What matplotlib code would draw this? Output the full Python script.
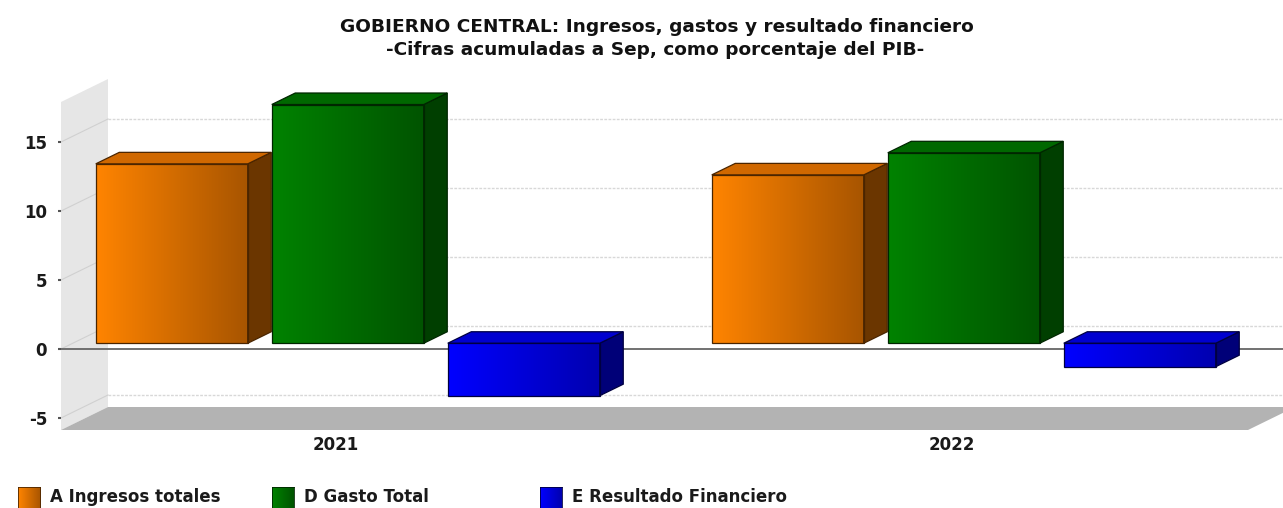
import numpy as np
import matplotlib.pyplot as plt
from matplotlib.patches import Polygon, Rectangle
from matplotlib.colors import to_rgb

plt.rcParams['font.family'] = ['DejaVu Sans']

# datos (% del PIB, acumulado a septiembre)
years = ['2021', '2022']
series_names = ['A Ingresos totales', 'D Gasto Total', 'E Resultado Financiero']
ingresos = [13.0, 12.2]
gasto = [17.3, 13.8]
resultado = [-3.8, -1.7]
yticks = [-5, 0, 5, 10, 15]

title_1 = 'GOBIERNO CENTRAL: Ingresos, gastos y resultado financiero'
title_2 = '-Cifras acumuladas a Sep, como porcentaje del PIB-'

# colores: frente izq, frente der, lateral, tapa, borde
colors = [
    ('#ff8400', '#a85500', '#6b3600', '#d06800', '#4a2500'),
    ('#008200', '#005400', '#003f00', '#006800', '#002600'),
    ('#0000ff', '#0000b0', '#000078', '#0000d0', '#000040'),
]

# geometria en pixeles de la figura
W, H = 1283, 508
X0_PX, PX_X = 336, 616      # centro de categoria 0 y px por categoria
Y0_PX, PX_V = 349, 13.8     # cero del plano frontal y px por unidad
DEPTH_X = 47 / PX_X
DEPTH_Y = 23 / PX_V
BAR_W = 152 / PX_X
BAR_STEP = 176 / PX_X
FRONT, BACK = 0.25, 0.75


def px_x(p):
    return (p - X0_PX) / PX_X


def px_v(p):
    return (Y0_PX - p) / PX_V


fig = plt.figure(figsize=(W / 100, H / 100), dpi=100)
ax = fig.add_axes([61 / W, (H - 432) / H, (W - 61) / W, (432 - 70) / H])

x_left, x_right = px_x(61), px_x(1248)
x_end = px_x(1300)
floor_v = px_v(430)
wall_top = px_v(102)

# lineas de la pared de fondo
for t in yticks:
    ax.plot([x_left + DEPTH_X, x_end], [t + DEPTH_Y, t + DEPTH_Y],
            color='#d8d8d8', lw=1, ls=(0, (2, 1)), zorder=1)

# pared izquierda
ax.add_patch(Polygon([(x_left, floor_v), (x_left + DEPTH_X, floor_v + DEPTH_Y),
                      (x_left + DEPTH_X, wall_top + DEPTH_Y), (x_left, wall_top)],
                     closed=True, facecolor='#e6e6e6', edgecolor='none', zorder=1))
for t in yticks:
    ax.plot([x_left, x_left + DEPTH_X], [t, t + DEPTH_Y], color='#d0d0d0', lw=0.8, zorder=1.5)

# piso
ax.add_patch(Polygon([(x_left, floor_v), (x_right, floor_v),
                      (x_right + DEPTH_X, floor_v + DEPTH_Y), (x_left + DEPTH_X, floor_v + DEPTH_Y)],
                     closed=True, facecolor='#b3b3b3', edgecolor='none', zorder=1.5))

# linea del cero
ax.plot([px_x(58), x_end], [0, 0], color='#666666', lw=1.3, zorder=2)

# barras 3D
ddx = (BACK - FRONT) * DEPTH_X
ddy = (BACK - FRONT) * DEPTH_Y
for j, vals in enumerate([ingresos, gasto, resultado]):
    c_l, c_r, c_side, c_top, c_edge = colors[j]
    grad = np.linspace(to_rgb(c_l), to_rgb(c_r), 64)[np.newaxis, :, :]
    for i, v in enumerate(vals):
        xl = i + (j - 1) * BAR_STEP - BAR_W / 2 + FRONT * DEPTH_X
        xr = xl + BAR_W
        base = FRONT * DEPTH_Y
        lo, hi = base + min(0, v), base + max(0, v)
        ax.imshow(grad, extent=(xl, xr, lo, hi), aspect='auto',
                  interpolation='bilinear', zorder=3)
        ax.add_patch(Rectangle((xl, lo), BAR_W, hi - lo, fill=False,
                               edgecolor=c_edge, lw=0.9, zorder=3.2))
        ax.add_patch(Polygon([(xr, lo), (xr + ddx, lo + ddy), (xr + ddx, hi + ddy), (xr, hi)],
                             closed=True, facecolor=c_side, edgecolor=c_edge, lw=0.9, zorder=3.1))
        ax.add_patch(Polygon([(xl, hi), (xr, hi), (xr + ddx, hi + ddy), (xl + ddx, hi + ddy)],
                             closed=True, facecolor=c_top, edgecolor=c_edge, lw=0.9, zorder=3.1))

ax.set_xlim(px_x(61), px_x(W))
ax.set_ylim(px_v(432), px_v(70))
ax.set_yticks(yticks)
ax.set_yticklabels([str(t) for t in yticks], fontsize=12, fontweight='bold', color='#1a1a1a')
ax.set_xticks([0, 1])
ax.set_xticklabels(years, fontsize=12, fontweight='bold', color='#1a1a1a')
ax.tick_params(axis='y', length=2, width=1.5, color='#555555', pad=8)
ax.tick_params(axis='x', length=0, pad=3)
for s in ax.spines.values():
    s.set_visible(False)
ax.patch.set_alpha(0)

# titulo
fig.text(657 / W, 1 - 27 / H, title_1, ha='center', va='center', fontsize=13.3,
         fontweight='bold', color='#111111')
fig.text(655 / W, 1 - 50 / H, title_2, ha='center', va='center', fontsize=13.3,
         fontweight='bold', color='#111111')

# leyenda
legend_x = [18, 272, 540]
for j, name in enumerate(series_names):
    c_l, c_r, c_side, c_top, c_edge = colors[j]
    sq = fig.add_axes([legend_x[j] / W, (H - 509) / H, 22 / W, 22 / H])
    sq.imshow(np.linspace(to_rgb(c_l), to_rgb(c_r), 32)[np.newaxis, :, :],
              aspect='auto', interpolation='bilinear')
    sq.set_xticks([])
    sq.set_yticks([])
    for s in sq.spines.values():
        s.set_color(c_edge)
        s.set_linewidth(0.6)
    fig.text((legend_x[j] + 32) / W, 1 - 497 / H, name, ha='left', va='center',
             fontsize=12, fontweight='bold', color='#1a1a1a')

fig.savefig('out.png', dpi=100)
